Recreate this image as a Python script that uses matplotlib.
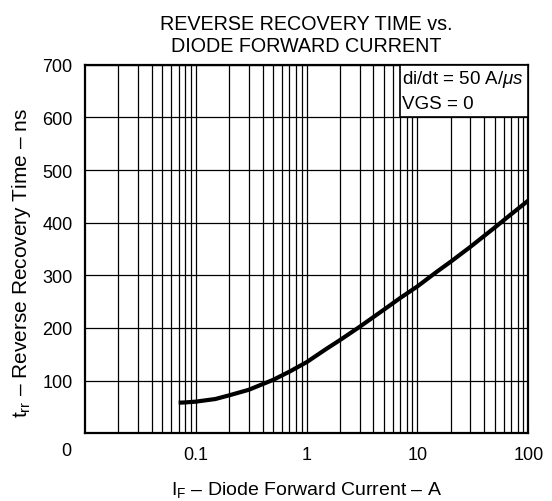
import numpy as np
import matplotlib
matplotlib.use("Agg")
import matplotlib.pyplot as plt
from matplotlib.patches import Rectangle
from matplotlib.ticker import FixedLocator, LogLocator, NullFormatter

plt.rcParams['font.family'] = ['Liberation Sans', 'DejaVu Sans']
plt.rcParams['mathtext.fontset'] = 'custom'
plt.rcParams['mathtext.rm'] = 'Liberation Sans'
plt.rcParams['mathtext.it'] = 'Liberation Sans:italic'

# curve
i_f = [0.07, 0.08, 0.1, 0.15, 0.2, 0.3, 0.5, 0.7, 1, 1.5, 2, 3, 5, 7,
       10, 15, 20, 30, 50, 70, 100]
t_rr = [58, 58.5, 60, 65, 72, 82.5, 101.5, 117, 135, 160, 177, 202, 235, 257,
        279, 307, 326, 354, 391, 416, 442]

x_ticks = [0.1, 1, 10, 100]
x_labels = ["0.1", "1", "10", "100"]
y_ticks = [100, 200, 300, 400, 500, 600, 700]

fig = plt.figure(figsize=(5.52, 5.02), dpi=100)
ax = fig.add_axes([0.154, 0.135, 0.803, 0.734])

ax.set_xscale('log')
ax.set_xlim(0.01, 100)
ax.set_ylim(0, 700)

ax.xaxis.set_major_locator(FixedLocator(x_ticks))
ax.set_xticklabels(x_labels)
ax.xaxis.set_minor_locator(LogLocator(base=10, subs=np.arange(2, 10)))
ax.xaxis.set_minor_formatter(NullFormatter())
ax.set_yticks(y_ticks)

ax.grid(True, which='both', axis='x', color='black', lw=0.9)
ax.grid(True, which='major', axis='y', color='black', lw=0.9)
ax.tick_params(which='both', length=0, labelsize=13)
ax.tick_params(axis='x', pad=9)
ax.tick_params(axis='y', pad=9)
for s in ax.spines.values():
    s.set_linewidth(1.6)

ax.plot(i_f, t_rr, color='black', lw=3, solid_capstyle='butt',
        solid_joinstyle='round', zorder=4)

ax.add_patch(Rectangle((7, 600), 93, 100, facecolor='white', edgecolor='black',
                       lw=1.2, zorder=5))
ax.text(7.3, 674, r"di/dt = 50 A/$\mathit{\mu s}$", fontsize=13.5, va='center', ha='left', zorder=6)
ax.text(7.3, 626, "VGS = 0", fontsize=13.5, va='center', ha='left', zorder=6)

ax.annotate("0", xy=(0, 0), xycoords='axes fraction', xytext=(-9.5, -6.5),
            textcoords='offset points', ha='right', va='top', fontsize=13)

ax.set_title("REVERSE RECOVERY TIME vs.\nDIODE FORWARD CURRENT", fontsize=14.2, pad=10)
ax.set_xlabel(r"I$_{\rm F}$ – Diode Forward Current – A", fontsize=14, labelpad=12)
ax.set_ylabel(r"t$_{\rm rr}$ – Reverse Recovery Time – ns", fontsize=15)
ax.yaxis.set_label_coords(-0.117, 0.465)

fig.savefig("out.png", dpi=100, facecolor='white')
